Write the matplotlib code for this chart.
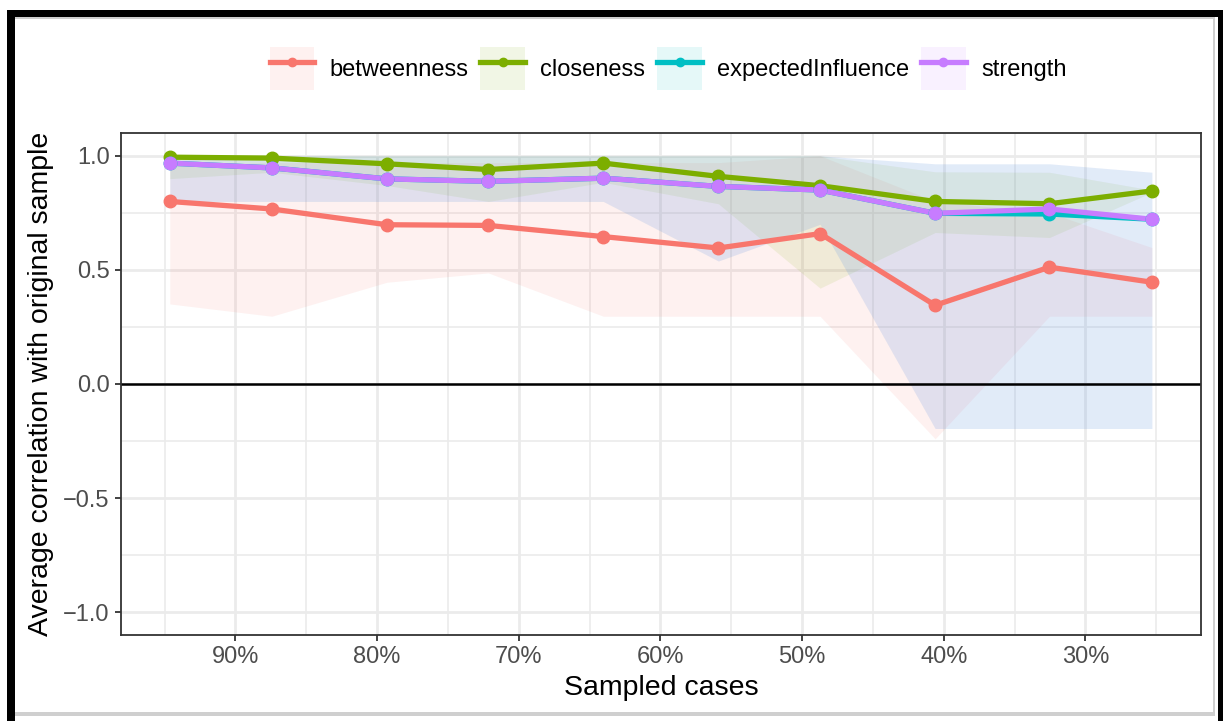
import numpy as np
import matplotlib
matplotlib.use("Agg")
import matplotlib.pyplot as plt
from matplotlib.patches import Rectangle
from matplotlib.lines import Line2D
from matplotlib.legend_handler import HandlerTuple
from matplotlib.ticker import FixedLocator, FuncFormatter

plt.rcParams['font.family'] = ['Liberation Sans', 'DejaVu Sans']

# 数据：抽样比例（%）及各中心性指标的平均相关与 95% 区间
sampled = [94.63, 87.43, 79.31, 72.15, 64.03, 55.91, 48.73, 40.61, 32.54, 25.31]

btw_mean = [0.800, 0.767, 0.698, 0.695, 0.646, 0.596, 0.659, 0.345, 0.512, 0.446]
btw_lo = [0.351, 0.297, 0.446, 0.487, 0.297, 0.297, 0.297, -0.240, 0.297, 0.297]
btw_hi = [0.960, 0.970, 0.970, 0.970, 0.970, 0.970, 1.000, 0.800, 0.750, 0.598]

clo_mean = [0.994, 0.990, 0.965, 0.940, 0.968, 0.910, 0.869, 0.800, 0.790, 0.846]
clo_lo = [0.900, 0.928, 0.870, 0.800, 0.884, 0.790, 0.420, 0.664, 0.642, 0.840]
clo_hi = [1.000, 1.000, 1.000, 1.000, 1.000, 1.000, 1.000, 0.930, 0.928, 0.850]

ei_mean = [0.968, 0.947, 0.899, 0.888, 0.902, 0.866, 0.850, 0.748, 0.745, 0.722]
ei_lo = [0.800, 0.800, 0.800, 0.800, 0.800, 0.539, 0.700, -0.195, -0.195, -0.195]
ei_hi = [1.000, 1.000, 1.000, 1.000, 1.000, 1.000, 1.000, 0.965, 0.965, 0.928]

str_mean = [0.968, 0.947, 0.899, 0.888, 0.902, 0.866, 0.850, 0.748, 0.767, 0.722]
str_lo = [0.800, 0.800, 0.800, 0.800, 0.800, 0.539, 0.700, -0.195, -0.195, -0.195]
str_hi = [1.000, 1.000, 1.000, 1.000, 1.000, 1.000, 1.000, 0.965, 0.965, 0.928]

names = ['betweenness', 'closeness', 'expectedInfluence', 'strength']
colors = ['#F8766D', '#7CAE00', '#00BFC4', '#C77CFF']
means = [btw_mean, clo_mean, ei_mean, str_mean]
lows = [btw_lo, clo_lo, ei_lo, str_lo]
highs = [btw_hi, clo_hi, ei_hi, str_hi]

W, H = 1223, 721
fig = plt.figure(figsize=(W / 100, H / 100), dpi=100)
ax = fig.add_axes([120.7 / W, 1 - 635 / H, (1201 - 120.7) / W, (635 - 133) / H])

# 带状区间
for lo, hi, c in zip(lows, highs, colors):
    ax.fill_between(sampled, lo, hi, color=c, alpha=0.1, lw=0, zorder=1)

ax.axhline(0, color='black', lw=1.8, zorder=2)

# 折线 + 点
for m, c in zip(means, colors):
    ax.plot(sampled, m, color=c, lw=3.8, zorder=3)
for m, c in zip(means, colors):
    ax.plot(sampled, m, ls='none', marker='o', ms=9, color=c, zorder=4)

# 坐标轴
rng = max(sampled) - min(sampled)
ax.set_xlim(max(sampled) + 0.05 * rng, min(sampled) - 0.05 * rng)
ax.set_ylim(-1.1, 1.1)
ax.xaxis.set_major_locator(FixedLocator([90, 80, 70, 60, 50, 40, 30]))
ax.xaxis.set_minor_locator(FixedLocator([95, 85, 75, 65, 55, 45, 35, 25]))
ax.xaxis.set_major_formatter(FuncFormatter(lambda v, p: f"{v:.0f}%"))
ax.yaxis.set_major_locator(FixedLocator([-1.0, -0.5, 0.0, 0.5, 1.0]))
ax.yaxis.set_minor_locator(FixedLocator([-0.75, -0.25, 0.25, 0.75]))
ax.yaxis.set_major_formatter(FuncFormatter(lambda v, p: f"{v:.1f}".replace('-', '\u2212')))

ax.grid(which='major', color='#EBEBEB', lw=2.0, zorder=0)
ax.grid(which='minor', color='#EBEBEB', lw=1.2, zorder=0)
ax.set_axisbelow(True)
for s in ax.spines.values():
    s.set_color('#333333')
    s.set_linewidth(1.3)
ax.tick_params(which='major', length=4, width=1.3, color='#333333',
               labelsize=17, labelcolor='#4D4D4D', pad=4)
ax.tick_params(which='minor', length=0)

fig.text(41 / W, 1 - 384 / H, 'Average correlation with original sample',
         rotation=90, ha='center', va='center', fontsize=20.5)
fig.text(661 / W, 1 - 688 / H, 'Sampled cases', ha='center', va='center', fontsize=20.5)

# 图例
handles = []
for c in colors:
    p = Rectangle((0, 0), 1, 1, facecolor=c, alpha=0.1, lw=0)
    l = Line2D([], [], color=c, lw=3.8, marker='o', ms=6)
    handles.append((p, l))
fig.legend(handles, names, ncol=4, loc='center', bbox_to_anchor=(668 / W, 1 - 68.7 / H),
           frameon=False, fontsize=17, handlelength=1.9, handleheight=2.43,
           handletextpad=0.64, columnspacing=0.5, borderpad=0, numpoints=1,
           handler_map={tuple: HandlerTuple(ndivide=1, pad=0)})

# 截图外框
def px_rect(x0, y0, x1, y1, color):
    fig.patches.append(Rectangle((x0 / W, 1 - y1 / H), (x1 - x0) / W, (y1 - y0) / H,
                                 transform=fig.transFigure, facecolor=color,
                                 edgecolor='none', zorder=10))

px_rect(7, 10, W, 17, 'black')
px_rect(7, 10, 15, H, 'black')
px_rect(1218, 10, W, H, 'black')
px_rect(15, 17, 1213, 18.5, '#CFCFCF')
px_rect(1212.5, 17, 1214.5, 716, '#CFCFCF')
px_rect(15, 712, 1214.5, 716, '#CFCFCF')

fig.savefig('out.png', dpi=100)
